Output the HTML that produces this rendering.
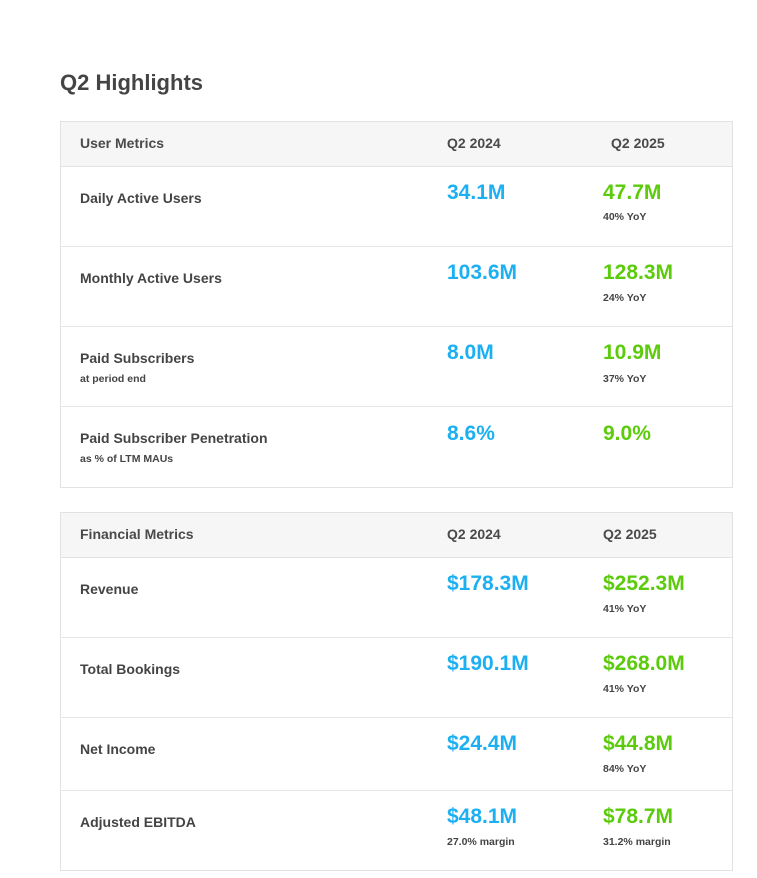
<!DOCTYPE html>
<html><head><style>
body{margin:0;width:757px;height:878px;background:#fff;position:relative;font-family:"Liberation Sans",sans-serif;overflow:hidden}
.t{position:absolute;line-height:20px;height:20px;white-space:nowrap;color:#444}
.box{position:absolute;left:60px;width:671px;border:1px solid #e2e2e2;background:#fff}
.hd{position:absolute;left:0;right:0;top:0;background:#f6f6f6;border-bottom:1px solid #e2e2e2}
.ln{position:absolute;left:0;right:0;height:1px;background:#e6e6e6}
.h{font-size:14px;font-weight:bold;color:#4a4a4a}
.l{font-size:14px;font-weight:bold;color:#444}
.s{font-size:10.5px;font-weight:bold;color:#444}
.b{font-size:21px;font-weight:bold;color:#1cb0f2}
.g{font-size:21px;font-weight:bold;color:#5ccb0c}
</style></head><body>
<div class="t" style="left:60px;top:71px;font-size:22px;font-weight:bold;color:#444;line-height:24px;height:24px">Q2 Highlights</div>

<div class="box" style="top:121px;height:365px">
 <div class="hd" style="height:44px"></div>
 <div class="ln" style="top:124px"></div>
 <div class="ln" style="top:204px"></div>
 <div class="ln" style="top:284px"></div>
</div>
<div class="box" style="top:512px;height:357px">
 <div class="hd" style="height:44px"></div>
 <div class="ln" style="top:124px"></div>
 <div class="ln" style="top:204px"></div>
 <div class="ln" style="top:277px"></div>
</div>

<div class="t h" style="left:80px;top:133px">User Metrics</div>
<div class="t h" style="left:447px;top:133px">Q2 2024</div>
<div class="t h" style="left:611px;top:133px">Q2 2025</div>

<div class="t l" style="left:80px;top:188px">Daily Active Users</div>
<div class="t b" style="left:447px;top:183px">34.1M</div>
<div class="t g" style="left:603px;top:183px">47.7M</div>
<div class="t s" style="left:603px;top:207px">40% YoY</div>

<div class="t l" style="left:80px;top:268px">Monthly Active Users</div>
<div class="t b" style="left:447px;top:263px">103.6M</div>
<div class="t g" style="left:603px;top:263px">128.3M</div>
<div class="t s" style="left:603px;top:288px">24% YoY</div>

<div class="t l" style="left:80px;top:348px">Paid Subscribers</div>
<div class="t s" style="left:80px;top:369px">at period end</div>
<div class="t b" style="left:447px;top:343px">8.0M</div>
<div class="t g" style="left:603px;top:343px">10.9M</div>
<div class="t s" style="left:603px;top:369px">37% YoY</div>

<div class="t l" style="left:80px;top:428px">Paid Subscriber Penetration</div>
<div class="t s" style="left:80px;top:449px">as % of LTM MAUs</div>
<div class="t b" style="left:447px;top:424px">8.6%</div>
<div class="t g" style="left:603px;top:424px">9.0%</div>

<div class="t h" style="left:80px;top:524px">Financial Metrics</div>
<div class="t h" style="left:447px;top:524px">Q2 2024</div>
<div class="t h" style="left:603px;top:524px">Q2 2025</div>

<div class="t l" style="left:80px;top:579px">Revenue</div>
<div class="t b" style="left:447px;top:574px">$178.3M</div>
<div class="t g" style="left:603px;top:574px">$252.3M</div>
<div class="t s" style="left:603px;top:599px">41% YoY</div>

<div class="t l" style="left:80px;top:659px">Total Bookings</div>
<div class="t b" style="left:447px;top:654px">$190.1M</div>
<div class="t g" style="left:603px;top:654px">$268.0M</div>
<div class="t s" style="left:603px;top:679px">41% YoY</div>

<div class="t l" style="left:80px;top:739px">Net Income</div>
<div class="t b" style="left:447px;top:734px">$24.4M</div>
<div class="t g" style="left:603px;top:734px">$44.8M</div>
<div class="t s" style="left:603px;top:759px">84% YoY</div>

<div class="t l" style="left:80px;top:812px">Adjusted EBITDA</div>
<div class="t b" style="left:447px;top:807px">$48.1M</div>
<div class="t g" style="left:603px;top:807px">$78.7M</div>
<div class="t s" style="left:447px;top:832px">27.0% margin</div>
<div class="t s" style="left:603px;top:832px">31.2% margin</div>
</body></html>
